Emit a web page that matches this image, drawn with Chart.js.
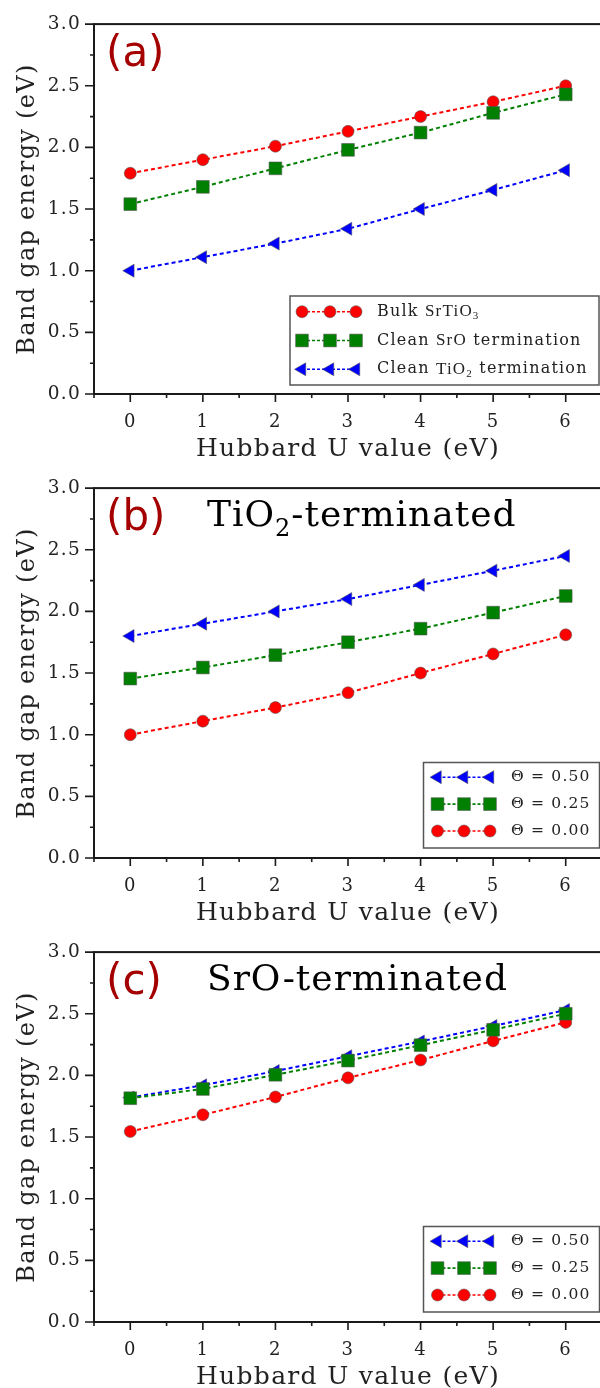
<!DOCTYPE html>
<html>
<head>
<meta charset="utf-8">
<script src="https://cdn.jsdelivr.net/npm/chart.js@4.4.1/dist/chart.umd.min.js"></script>
<style>
  html, body { margin: 0; padding: 0; background: #fff; width: 600px; height: 1388px; overflow: hidden; }
  canvas { display: block; }
</style>
</head>
<body>
<canvas id="panelA" width="612" height="464"></canvas>
<canvas id="panelB" width="612" height="464"></canvas>
<canvas id="panelC" width="612" height="464"></canvas>
<script>
// Hubbard U values (eV)
const U = [0, 1, 2, 3, 4, 5, 6];
const xTickValues = [0, 1, 2, 3, 4, 5, 6];
const yTickValues = [0.0, 0.5, 1.0, 1.5, 2.0, 2.5, 3.0];

// (a) bulk and clean surfaces
const bulkSrTiO3 = [1.79, 1.90, 2.01, 2.13, 2.25, 2.37, 2.50];
const cleanSrO   = [1.54, 1.68, 1.83, 1.98, 2.12, 2.28, 2.43];
const cleanTiO2  = [1.00, 1.11, 1.22, 1.34, 1.50, 1.655, 1.815];

// (b) TiO2-terminated, coverage theta
const tio2Theta050 = [1.80, 1.90, 2.00, 2.10, 2.215, 2.33, 2.45];
const tio2Theta025 = [1.455, 1.545, 1.645, 1.75, 1.86, 1.99, 2.125];
const tio2Theta000 = [1.00, 1.11, 1.22, 1.34, 1.50, 1.655, 1.81];

// (c) SrO-terminated, coverage theta
const sroTheta050 = [1.82, 1.92, 2.035, 2.155, 2.275, 2.40, 2.53];
const sroTheta025 = [1.815, 1.89, 2.005, 2.12, 2.245, 2.37, 2.50];
const sroTheta000 = [1.545, 1.68, 1.825, 1.98, 2.125, 2.28, 2.43];

const SERIF = '"DejaVu Serif", serif';
const SANS = '"DejaVu Sans", sans-serif';
const RED = '#ff0000', GREEN = '#008000', BLUE = '#0000ff';
const SPACING = '1.3px';

const circle = { style: 'circle', radius: 6, rotation: 0, color: RED };
const square = { style: 'rect', radius: 9, rotation: 0, color: GREEN };
const triangle = { style: 'triangle', radius: 7.5, rotation: -90, color: BLUE };

// draw a run of text pieces: [text, kind] where kind is 'n' normal, 'f' formula, 's' subscript
function drawRich(ctx, parts, x, y, size, formulaFont) {
  let cx = x;
  parts.forEach(([t, kind]) => {
    let dy = 0;
    if (kind === 's') { ctx.font = Math.round(size * 0.68) + 'px ' + (formulaFont || SERIF); dy = size * 0.28; }
    else if (kind === 'f') ctx.font = (formulaFont ? Math.round(size * 1.08) : size) + 'px ' + (formulaFont || SERIF);
    else ctx.font = size + 'px ' + SERIF;
    ctx.fillText(t, cx, y + dy);
    cx += ctx.measureText(t).width;
  });
}

function marker(ctx, m, x, y) {
  ctx.fillStyle = m.color;
  ctx.strokeStyle = 'rgba(80,80,80,0.55)';
  ctx.lineWidth = 1;
  ctx.setLineDash([]);
  ctx.beginPath();
  if (m.style === 'circle') {
    ctx.arc(x, y, m.radius, 0, Math.PI * 2);
  } else if (m.style === 'rect') {
    const h = m.radius * Math.SQRT1_2;
    ctx.rect(x - h, y - h, 2 * h, 2 * h);
  } else {
    const r = m.radius;
    ctx.moveTo(x - r, y);
    ctx.lineTo(x + r / 2, y - r * 0.866);
    ctx.lineTo(x + r / 2, y + r * 0.866);
    ctx.closePath();
  }
  ctx.fill();
  ctx.stroke();
}

// the figure's serif text runs a little wide, so widen the tracking
const spacing = {
  id: 'spacing',
  beforeLayout(chart) { chart.ctx.letterSpacing = SPACING; },
  beforeDraw(chart) { chart.ctx.letterSpacing = SPACING; }
};

// frame and tick marks
const frame = {
  id: 'frame',
  afterDatasetsDraw(chart) {
    const { ctx, chartArea: a, scales: { x, y } } = chart;
    ctx.save();
    ctx.strokeStyle = '#1a1a1a';
    ctx.lineWidth = 2;
    ctx.strokeRect(a.left, a.top, a.right - a.left, a.bottom - a.top);
    ctx.lineWidth = 1.6;
    ctx.beginPath();
    for (let k = 0; k <= 12; k++) {
      const py = y.getPixelForValue(k * 0.25);
      const len = k % 2 === 0 ? 9 : 4;
      ctx.moveTo(a.left, py); ctx.lineTo(a.left - len, py);
    }
    for (let k = -1; k <= 13; k++) {
      const px = x.getPixelForValue(k * 0.5);
      const len = k % 2 === 0 ? 8 : 4;
      ctx.moveTo(px, a.bottom); ctx.lineTo(px, a.bottom + len);
    }
    ctx.stroke();
    ctx.restore();
  }
};

// panel letter, heading and the boxed legend
const decor = {
  id: 'decor',
  afterDraw(chart, args, o) {
    const { ctx } = chart;
    ctx.save();
    ctx.textBaseline = 'alphabetic';
    ctx.letterSpacing = '0px';
    ctx.fillStyle = '#a50000';
    ctx.font = '42px ' + SANS;
    ctx.fillText(o.letter, 106, 66);
    if (o.heading) {
      ctx.letterSpacing = '1px';
      ctx.fillStyle = '#000';
      drawRich(ctx, o.heading, 207, 62, 36);
    }
    const L = o.legend;
    ctx.fillStyle = '#fff';
    ctx.fillRect(L.x, L.y, L.w, L.h);
    ctx.strokeStyle = '#555';
    ctx.lineWidth = 1.5;
    ctx.strokeRect(L.x, L.y, L.w, L.h);
    ctx.letterSpacing = L.spacing;
    L.rows.forEach((row, i) => {
      const cy = L.y0 + i * L.gap;
      ctx.strokeStyle = row.m.color;
      ctx.lineWidth = 1.6;
      ctx.setLineDash([3, 2]);
      ctx.beginPath();
      ctx.moveTo(L.mx[0], cy); ctx.lineTo(L.mx[2], cy);
      ctx.stroke();
      L.mx.forEach(mx => marker(ctx, row.m, mx, cy));
      ctx.fillStyle = '#222';
      ctx.textBaseline = 'middle';
      drawRich(ctx, row.text, L.tx, cy, L.size, L.formulaFont);
    });
    ctx.restore();
  }
};

function dataset(values, m, order) {
  return {
    data: U.map((u, i) => ({ x: u, y: values[i] })),
    borderColor: m.color,
    backgroundColor: m.color,
    pointBackgroundColor: m.color,
    pointBorderColor: 'rgba(80,80,80,0.55)',
    pointBorderWidth: 1,
    pointStyle: m.style,
    pointRadius: m.radius,
    pointRotation: m.rotation,
    borderWidth: 2,
    borderDash: [4, 3],
    order: order
  };
}

function makeChart(id, datasets, decorOpts) {
  return new Chart(document.getElementById(id), {
    type: 'line',
    data: { datasets },
    options: {
      responsive: false,
      animation: false,
      layout: { padding: { top: 17, right: 3, left: 0, bottom: 0 } },
      plugins: { legend: { display: false }, tooltip: { enabled: false }, decor: decorOpts },
      scales: {
        x: {
          type: 'linear', min: -0.5, max: 6.5,
          afterBuildTicks: s => { s.ticks = xTickValues.map(v => ({ value: v })); },
          afterFit: s => { s.height = 70; },
          grid: { display: false, drawTicks: false },
          border: { display: false },
          ticks: { padding: 18, color: '#222', font: { family: SERIF, size: 18 }, callback: v => String(v) },
          title: { display: true, text: 'Hubbard U value (eV)', color: '#222', font: { family: SERIF, size: 25 }, padding: { top: 0, bottom: 0 } }
        },
        y: {
          min: 0, max: 3,
          afterBuildTicks: s => { s.ticks = yTickValues.map(v => ({ value: v })); },
          afterFit: s => { s.width = 94; },
          grid: { display: false, drawTicks: false },
          border: { display: false },
          ticks: { padding: 13, color: '#222', font: { family: SERIF, size: 18.5 }, callback: v => v.toFixed(1) },
          title: { display: true, text: 'Band gap energy (eV)', color: '#222', font: { family: SERIF, size: 24 }, padding: { top: 13, bottom: 0 } }
        }
      }
    },
    plugins: [spacing, frame, decor]
  });
}

const thetaLegend = (rows) => ({
  x: 423.5, y: 298.5, w: 176, h: 85.5, y0: 313.2, gap: 26.9,
  mx: [437.5, 464, 490], tx: 511, size: 15.5, spacing: '1.2px', rows
});

makeChart('panelA', [
  dataset(bulkSrTiO3, circle, 3),
  dataset(cleanSrO, square, 2),
  dataset(cleanTiO2, triangle, 1)
], {
  letter: '(a)',
  legend: {
    x: 290, y: 296, w: 309, h: 89, y0: 311.7, gap: 28.8,
    mx: [302, 330, 356], tx: 377, size: 16, spacing: '1.2px', formulaFont: '"Liberation Serif", serif',
    rows: [
      { m: circle, text: [['Bulk ', 'n'], ['SrTiO', 'f'], ['3', 's']] },
      { m: square, text: [['Clean ', 'n'], ['SrO', 'f'], [' termination', 'n']] },
      { m: triangle, text: [['Clean ', 'n'], ['TiO', 'f'], ['2', 's'], [' termination', 'n']] }
    ]
  }
});

makeChart('panelB', [
  dataset(tio2Theta000, circle, 3),
  dataset(tio2Theta025, square, 2),
  dataset(tio2Theta050, triangle, 1)
], {
  letter: '(b)',
  heading: [['TiO', 'n'], ['2', 's'], ['-terminated', 'n']],
  legend: thetaLegend([
    { m: triangle, text: [['\u0398 = 0.50', 'n']] },
    { m: square, text: [['\u0398 = 0.25', 'n']] },
    { m: circle, text: [['\u0398 = 0.00', 'n']] }
  ])
});

makeChart('panelC', [
  dataset(sroTheta000, circle, 3),
  dataset(sroTheta025, square, 1),
  dataset(sroTheta050, triangle, 2)
], {
  letter: '(c)',
  heading: [['SrO-terminated', 'n']],
  legend: thetaLegend([
    { m: triangle, text: [['\u0398 = 0.50', 'n']] },
    { m: square, text: [['\u0398 = 0.25', 'n']] },
    { m: circle, text: [['\u0398 = 0.00', 'n']] }
  ])
});
</script>
</body>
</html>
